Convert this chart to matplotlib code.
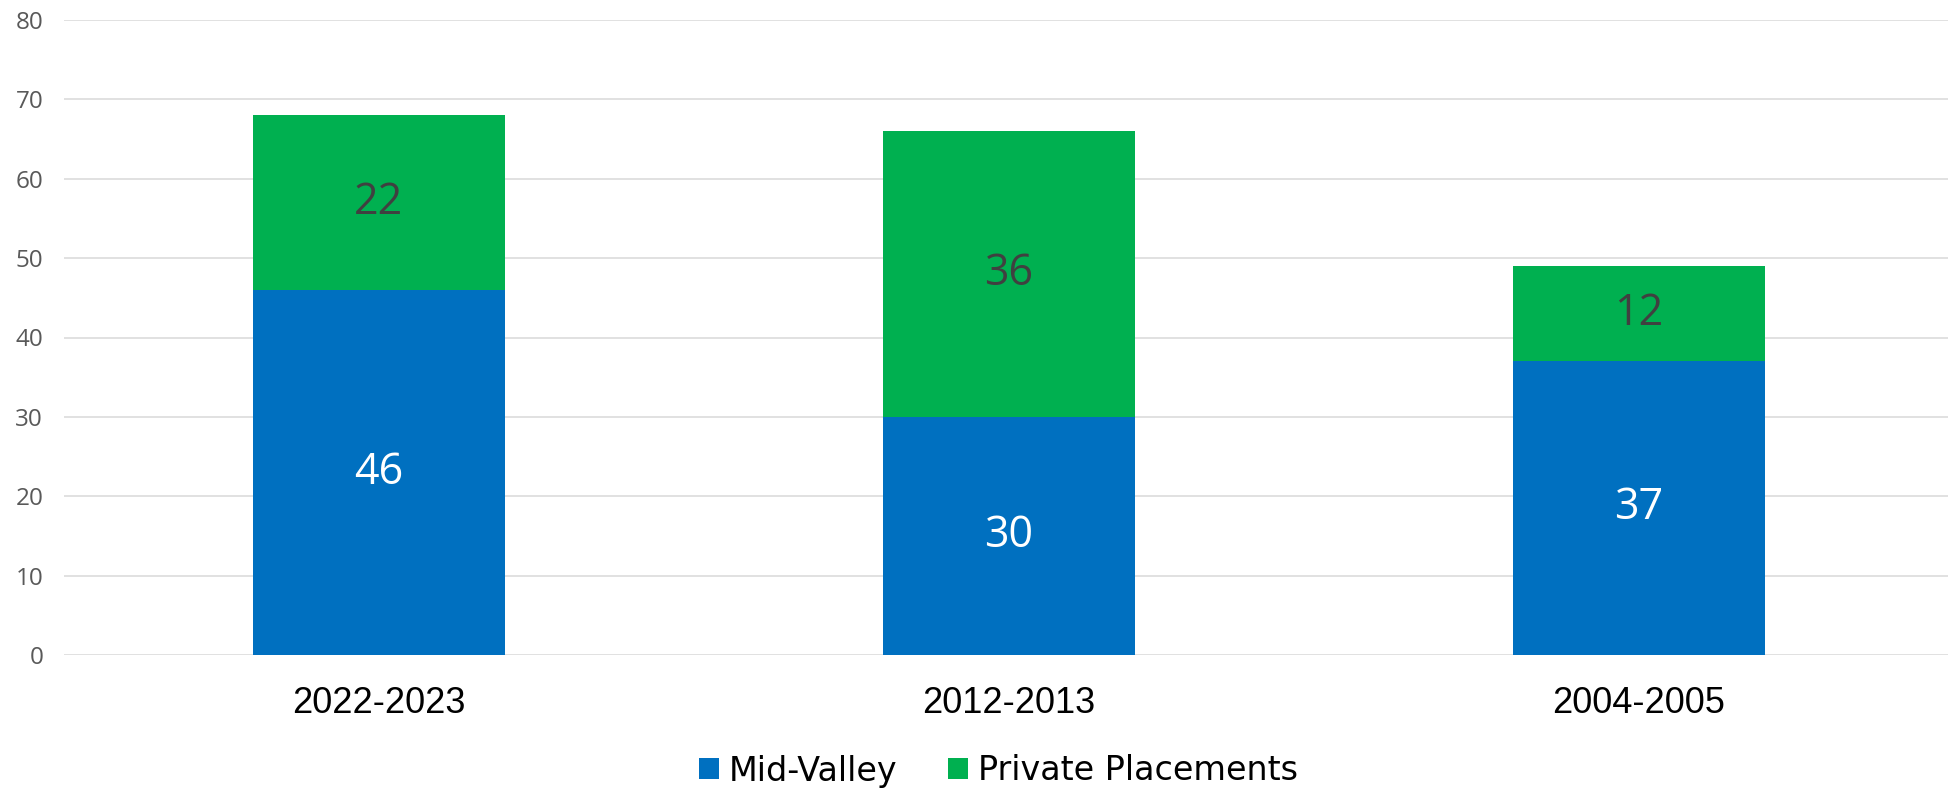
import matplotlib
matplotlib.use('Agg')
import matplotlib.pyplot as plt
import numpy as np

# chart data
periods = ['2022-2023', '2012-2013', '2004-2005']
mid_valley = [46, 30, 37]
private = [22, 36, 12]
yticks = [0, 10, 20, 30, 40, 50, 60, 70, 80]

BLUE = '#0070C0'
GREEN = '#00B050'
GRID = '#D9D9D9'

W, H = 1949, 791
fig = plt.figure(figsize=(W / 100, H / 100), dpi=100)
# axes placed in pixel terms: left edge 64px, zero line at 655px, 80 line at 20px
ax = fig.add_axes([64 / W, 1 - 655 / H, 1885 / W, 635 / H])

x = np.arange(len(periods))
bw = 0.4
b1 = ax.bar(x, mid_valley, bw, color=BLUE, label='Mid-Valley', zorder=2)
b2 = ax.bar(x, private, bw, bottom=mid_valley, color=GREEN,
            label='Private Placements', zorder=2)

ax.bar_label(b1, labels=[str(v) for v in mid_valley], label_type='center',
             color='white', fontsize=31, family='Open Sans')
ax.bar_label(b2, labels=[str(v) for v in private], label_type='center',
             color='#404040', fontsize=31, family='Open Sans')

ax.set_xlim(-0.5, -0.5 + 1885 / 630)
ax.set_ylim(0, 80)
ax.set_yticks(yticks)
ax.set_yticklabels([str(t) for t in yticks], family='Open Sans', fontsize=17.5,
                   color='#595959')
ax.set_xticks(x)
ax.set_xticklabels(periods, family='Liberation Sans', fontsize=26,
                   color='black')
ax.tick_params(axis='both', length=0)
ax.tick_params(axis='y', pad=15)
ax.tick_params(axis='x', pad=22)

ax.yaxis.grid(True, color=GRID, lw=1.1)
ax.set_axisbelow(True)
for s in ax.spines.values():
    s.set_visible(False)

fig.legend(handles=[b1, b2], loc='center', bbox_to_anchor=(998.5 / W, 1 - 771 / H),
           ncol=2, frameon=False, prop=dict(family='DejaVu Sans', size=24),
           handlelength=0.6, handleheight=0.6, handletextpad=0.3,
           columnspacing=1.5, borderaxespad=0, borderpad=0)

fig.savefig('out.png', dpi=100)
